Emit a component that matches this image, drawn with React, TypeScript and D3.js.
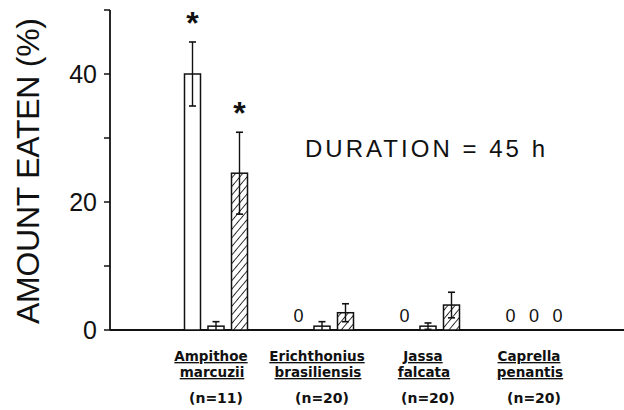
import { useEffect, useRef } from "react";
import * as d3 from "d3";

const categories = ["Ampithoe", "Erichthonius", "Jassa", "Caprella"];
const nameLine1 = ["Ampithoe", "Erichthonius", "Jassa", "Caprella"];
const nameLine2 = ["marcuzii", "brasiliensis", "falcata", "penantis"];
const sampleSizes = ["(n=11)", "(n=20)", "(n=20)", "(n=20)"];

const series = ["open", "small", "hatched"];
const openValues = [40, 0, 0, 0];
const openErrors = [5, 0, 0, 0];
const smallValues = [0.6, 0.6, 0.6, 0];
const smallErrors = [0.7, 0.7, 0.5, 0];
const hatchedValues = [24.5, 2.7, 3.9, 0];
const hatchedErrors = [6.4, 1.4, 2.0, 0];
const significant = [
  [true, false, true],
  [false, false, false],
  [false, false, false],
  [false, false, false],
];

const yTicks = [0, 10, 20, 30, 40, 50];
const yLabelled = [0, 20, 40];

const thinFont = "'Liberation Sans', Arial, sans-serif";
const boldFont = "'DejaVu Sans', sans-serif";

export default function App() {
  const svgRef = useRef<SVGSVGElement | null>(null);

  useEffect(() => {
    const svg = d3.select(svgRef.current);
    svg.selectAll("*").remove();

    const y = d3.scaleLinear().domain([0, 50]).range([330, 10]);
    const x0 = d3.scaleBand().domain(categories).range([163, 587]);
    const x1 = d3.scalePoint().domain(series).range([-23.5, 23.5]);
    const barW = 16;

    // hatch pattern
    const defs = svg.append("defs");
    const pat = defs
      .append("pattern")
      .attr("id", "hatch")
      .attr("patternUnits", "userSpaceOnUse")
      .attr("width", 5.5)
      .attr("height", 5.5)
      .attr("patternTransform", "rotate(40)");
    pat.append("rect").attr("width", 5.5).attr("height", 5.5).attr("fill", "#fff");
    pat
      .append("line")
      .attr("x1", 0)
      .attr("y1", 0)
      .attr("x2", 0)
      .attr("y2", 5.5)
      .attr("stroke", "#111")
      .attr("stroke-width", 1.7);

    // y axis
    svg
      .append("line")
      .attr("x1", 110)
      .attr("x2", 110)
      .attr("y1", y(50))
      .attr("y2", y(0))
      .attr("stroke", "#111")
      .attr("stroke-width", 1.8);
    svg
      .selectAll(".ytick")
      .data(yTicks)
      .enter()
      .append("line")
      .attr("x1", 104)
      .attr("x2", 110)
      .attr("y1", (d) => y(d))
      .attr("y2", (d) => y(d))
      .attr("stroke", "#111")
      .attr("stroke-width", 1.5);
    svg
      .selectAll(".ylab")
      .data(yLabelled)
      .enter()
      .append("text")
      .attr("x", 97)
      .attr("y", (d) => y(d) + 9)
      .attr("text-anchor", "end")
      .style("font-family", thinFont)
      .style("font-size", "25px")
      .attr("fill", "#111")
      .text((d) => d);

    svg
      .append("text")
      .attr("transform", "translate(39,171) rotate(-90)")
      .attr("text-anchor", "middle")
      .attr("textLength", 306)
      .style("font-family", thinFont)
      .style("font-size", "32px")
      .attr("fill", "#111")
      .text("AMOUNT EATEN (%)");

    // x axis
    svg
      .append("line")
      .attr("x1", 110)
      .attr("x2", 624)
      .attr("y1", y(0))
      .attr("y2", y(0))
      .attr("stroke", "#111")
      .attr("stroke-width", 2);

    // bars
    const rows = categories.flatMap((c, i) => [
      { c, i, s: "open", v: openValues[i], e: openErrors[i] },
      { c, i, s: "small", v: smallValues[i], e: smallErrors[i] },
      { c, i, s: "hatched", v: hatchedValues[i], e: hatchedErrors[i] },
    ]);
    const cx = (d) => (x0(d.c) as number) + x0.bandwidth() / 2 + (x1(d.s) as number);

    const present = rows.filter((d) => d.v > 0);
    svg
      .selectAll(".bar")
      .data(present)
      .enter()
      .append("rect")
      .attr("x", (d) => cx(d) - barW / 2)
      .attr("y", (d) => y(d.v))
      .attr("width", barW)
      .attr("height", (d) => y(0) - y(d.v))
      .attr("fill", (d) => (d.s === "hatched" ? "url(#hatch)" : "#fff"))
      .attr("stroke", "#111")
      .attr("stroke-width", 1.5);

    // error bars
    const err = svg.selectAll(".err").data(present.filter((d) => d.e > 0)).enter().append("g");
    err
      .append("line")
      .attr("x1", cx)
      .attr("x2", cx)
      .attr("y1", (d) => y(d.v + d.e))
      .attr("y2", (d) => y(Math.max(0, d.v - d.e)))
      .attr("stroke", "#111")
      .attr("stroke-width", 1.4);
    err
      .append("line")
      .attr("x1", (d) => cx(d) - 3.5)
      .attr("x2", (d) => cx(d) + 3.5)
      .attr("y1", (d) => y(d.v + d.e))
      .attr("y2", (d) => y(d.v + d.e))
      .attr("stroke", "#111")
      .attr("stroke-width", 1.6);
    err
      .filter((d) => d.v - d.e > 0)
      .append("line")
      .attr("x1", (d) => cx(d) - 3.5)
      .attr("x2", (d) => cx(d) + 3.5)
      .attr("y1", (d) => y(d.v - d.e))
      .attr("y2", (d) => y(d.v - d.e))
      .attr("stroke", "#111")
      .attr("stroke-width", 1.6);

    // zero markers
    svg
      .selectAll(".zero")
      .data(rows.filter((d) => d.v === 0))
      .enter()
      .append("text")
      .attr("x", cx)
      .attr("y", y(0) - 8)
      .attr("text-anchor", "middle")
      .style("font-family", thinFont)
      .style("font-size", "18px")
      .attr("fill", "#111")
      .text("0");

    // asterisks
    svg
      .selectAll(".star")
      .data(rows.filter((d) => significant[d.i][series.indexOf(d.s)]))
      .enter()
      .append("text")
      .attr("x", cx)
      .attr("y", (d) => y(d.v + d.e) - 8)
      .attr("text-anchor", "middle")
      .style("font-family", thinFont)
      .style("font-size", "32px")
      .style("font-weight", "bold")
      .attr("fill", "#111")
      .text("*");

    svg
      .append("text")
      .attr("x", 305)
      .attr("y", 157)
      .attr("textLength", 240)
      .style("font-family", thinFont)
      .style("font-size", "24px")
      .attr("fill", "#111")
      .text("DURATION = 45 h");

    // category labels
    const lab = svg
      .selectAll(".cat")
      .data(categories)
      .enter()
      .append("g")
      .attr("transform", (d) => `translate(${(x0(d) as number) + x0.bandwidth() / 2},0)`)
      .attr("text-anchor", "middle")
      .style("font-family", boldFont)
      .style("font-weight", "bold")
      .style("font-size", "13.5px")
      .attr("fill", "#111");
    lab
      .append("text")
      .attr("x", -5)
      .attr("y", 361)
      .style("text-decoration", "underline")
      .text((d, i) => nameLine1[i]);
    lab
      .append("text")
      .attr("x", -4)
      .attr("y", 377)
      .style("text-decoration", "underline")
      .text((d, i) => nameLine2[i]);
    lab
      .append("text")
      .attr("x", 0)
      .attr("y", 403)
      .style("font-size", "14px")
      .text((d, i) => sampleSizes[i]);
  }, []);

  return (
    <svg
      ref={svgRef}
      width={624}
      height={410}
      style={{ position: "absolute", left: 0, top: 0, background: "#fff" }}
    ></svg>
  );
}
